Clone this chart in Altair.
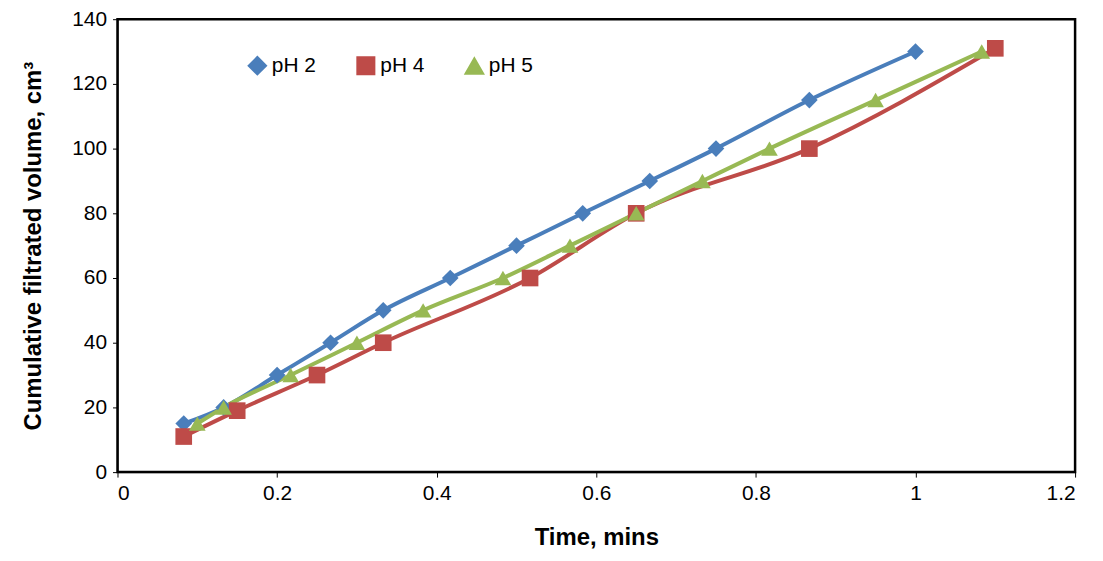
import altair as alt
import pandas as pd

t2 = [0.083,0.133,0.2,0.267,0.333,0.417,0.5,0.583,0.667,0.75,0.867,1.0]
v2 = [15,20,30,40,50,60,70,80,90,100,115,130]
t4 = [0.083,0.15,0.25,0.333,0.517,0.65,0.867,1.1]
v4 = [11,19,30,40,60,80,100,131]
t5 = [0.1,0.133,0.217,0.3,0.383,0.483,0.567,0.65,0.733,0.817,0.95,1.083]
v5 = [15,20,30,40,50,60,70,80,90,100,115,130]
series = ["pH 2","pH 4","pH 5"]
colors = ["#4A7EBB","#BE4B48","#98B954"]
shapes = ["diamond","square","triangle-up"]

rows = []
for name, ts, vs in zip(series, [t2,t4,t5], [v2,v4,v5]):
    rows += [{"s": name, "t": a, "v": b} for a, b in zip(ts, vs)]
df = pd.DataFrame(rows)

x = alt.X("t:Q", scale=alt.Scale(domain=[0,1.2]), axis=alt.Axis(values=[0,0.2,0.4,0.6,0.8,1,1.2], format="~g", title="Time, mins", grid=False, titlePadding=22))
y = alt.Y("v:Q", scale=alt.Scale(domain=[0,140]), axis=alt.Axis(values=list(range(0,141,20)), title="Cumulative filtrated volume, cm³", grid=False, titlePadding=26))
col = alt.Color("s:N", scale=alt.Scale(domain=series, range=colors),
                legend=alt.Legend(title=None, orient="none", direction="horizontal", legendX=130, legendY=36,
                                  labelFontSize=21, symbolSize=260, columnPadding=35, symbolStrokeWidth=3))
shp = alt.Shape("s:N", scale=alt.Scale(domain=series, range=shapes), legend=None)

base = alt.Chart(df)
lines = base.mark_line(strokeWidth=4, interpolate="monotone").encode(x=x, y=y, color=col, detail="s:N")
pts = base.mark_point(filled=True, size=280, opacity=1).encode(x=x, y=y, color=alt.Color("s:N", scale=alt.Scale(domain=series, range=colors), legend=None), shape=shp)

chart = (lines + pts).properties(width=962, height=455, autosize=alt.AutoSizeParams(type="none"),
    padding={"left":110, "top":10, "right":20, "bottom":80}).configure_view(stroke="black", strokeWidth=2.5).configure_axis(
    labelFontSize=21, titleFontSize=24, titleFontWeight="bold", labelFont="Liberation Sans", titleFont="Liberation Sans",
    domainColor="black", tickColor="black", labelColor="black", titleColor="black", labelPadding=6).configure_legend(labelFont="Liberation Sans")
chart.save("out.html", embed_options={"renderer": "svg", "actions": False})
